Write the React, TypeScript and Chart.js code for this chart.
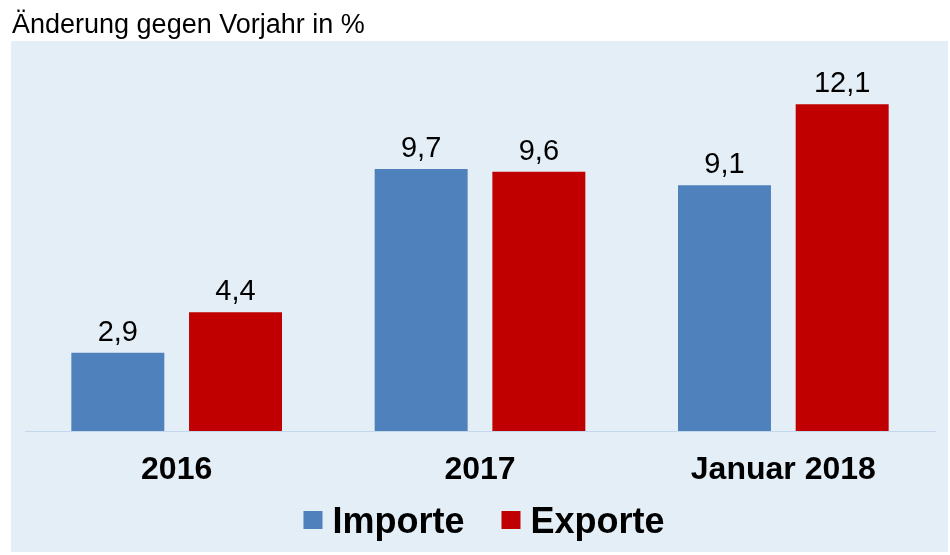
import { useEffect, useRef } from 'react';
import { Chart, registerables } from 'chart.js';

const categories = ['2016', '2017', 'Januar 2018'];
const importe = [2.9, 9.7, 9.1];
const exporte = [4.4, 9.6, 12.1];
const seriesNames = ['Importe', 'Exporte'];
const titleText = 'Änderung gegen Vorjahr in %';

const FONT = '"Liberation Sans", Arial, sans-serif';
const BLUE = '#4f81bd';
const RED = '#c00000';

const fmt = (v: number) => v.toFixed(1).replace('.', ',');

const decorPlugin = {
	id: 'decor',
	beforeDraw(chart: any) {
		const ctx = chart.ctx;
		ctx.save();
		ctx.fillStyle = '#e4eef6';
		ctx.fillRect(11, 41, 937, 511);
		ctx.fillStyle = '#000';
		ctx.font = `27px ${FONT}`;
		ctx.textBaseline = 'alphabetic';
		ctx.textAlign = 'left';
		ctx.fillText(titleText, 12, 33);
		ctx.restore();
	},
	afterDraw(chart: any) {
		const ctx = chart.ctx;
		ctx.save();
		// value labels
		ctx.font = `29px ${FONT}`;
		ctx.fillStyle = '#000';
		ctx.textAlign = 'center';
		ctx.textBaseline = 'alphabetic';
		chart.data.datasets.forEach((ds: any, i: number) => {
			chart.getDatasetMeta(i).data.forEach((bar: any, j: number) => {
				ctx.fillText(fmt(ds.data[j]), bar.x, bar.y - 12);
			});
		});
		// legend
		ctx.font = `bold 36px ${FONT}`;
		const boxW = 19;
		const gapText = 10;
		const gapItem = 37;
		const widths = chart.data.datasets.map((ds: any) => boxW + gapText + ctx.measureText(ds.label).width);
		const total = widths.reduce((a: number, b: number) => a + b, 0) + gapItem * (widths.length - 1);
		let x = 484 - total / 2;
		const cy = 520;
		chart.data.datasets.forEach((ds: any, i: number) => {
			ctx.fillStyle = ds.backgroundColor;
			ctx.fillRect(x, cy - 9, boxW, 18);
			ctx.fillStyle = '#000';
			ctx.textAlign = 'left';
			ctx.textBaseline = 'alphabetic';
			ctx.fillText(ds.label, x + boxW + gapText, cy + 13);
			x += widths[i] + gapItem;
		});
		ctx.restore();
	}
};

export default function App() {
	const canvasRef = useRef<HTMLCanvasElement>(null);
	useEffect(() => {
		Chart.register(...registerables);
		const chart = new Chart(canvasRef.current as HTMLCanvasElement, {
			type: 'bar',
			data: {
				labels: categories,
				datasets: [
					{ label: seriesNames[0], data: importe, backgroundColor: BLUE },
					{ label: seriesNames[1], data: exporte, backgroundColor: RED }
				]
			},
			options: {
				responsive: false,
				animation: false,
				devicePixelRatio: 1,
				categoryPercentage: 0.776,
				barPercentage: 0.79,
				layout: { padding: { top: 53, left: 25, right: 15, bottom: 64 } },
				scales: {
					x: {
						grid: { display: false, drawTicks: false },
						border: { display: true, color: '#c3d8ec', width: 1 },
						ticks: {
							color: '#000',
							padding: 20,
							font: { family: FONT, size: 32, weight: 'bold' }
						},
						afterFit: (s: any) => {
							s.height = 60;
						}
					},
					y: {
						display: false,
						min: 0,
						max: 14
					}
				},
				plugins: {
					legend: { display: false },
					title: { display: false },
					tooltip: { enabled: false }
				}
			},
			plugins: [decorPlugin]
		});
		return () => chart.destroy();
	}, []);

	return (
		<div style={{ position: 'absolute', left: 0, top: 0, width: 950, height: 555, background: '#fff' }}>
			<canvas ref={canvasRef} width={950} height={555}></canvas>
		</div>
	);
}
